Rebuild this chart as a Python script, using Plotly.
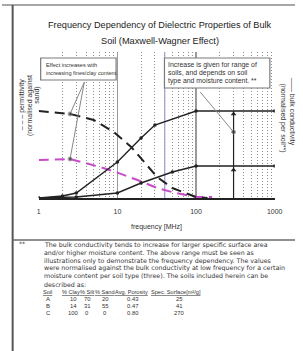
import plotly.graph_objects as go

W, H = 303, 351
def px(x): return x / W
def py(y): return 1 - y / H

FONT = "Liberation Sans"
TXT = "#333333"

# ---------------- data ----------------
tick_vals = [1, 10, 100, 1000]
tick_text = ["1", "10", "100", "1000"]
minor_vals = [2, 3, 4, 5, 6, 7, 8, 9, 20, 30, 40, 50, 60, 70, 80, 90,
              200, 300, 400, 500, 600, 700, 800, 900]

# permittivity (normalised against sand) - high fines/clay soil
perm_hi_f = [1, 2.5, 5, 9, 15, 22, 32, 50, 100, 140]
perm_hi = [0.87, 0.84, 0.78, 0.66, 0.51, 0.36, 0.21, 0.10, 0.01, 0.0]
# permittivity - lower fines soil
perm_lo_f = [1, 2.5, 6, 9.5, 18, 32, 55, 100, 160]
perm_lo = [0.38, 0.39, 0.31, 0.26, 0.18, 0.10, 0.05, 0.01, 0.01]

# bulk conductivity (normalised per soil) - upper / lower limit of range
cond_hi_f = [1, 2, 3, 10, 20, 30, 100, 1000]
cond_hi = [0.0, 0.02, 0.05, 0.36, 0.60, 0.73, 0.87, 0.87]
cond_lo_f = [1, 2, 3, 10, 20, 50, 100, 1000]
cond_lo = [0.0, 0.01, 0.01, 0.05, 0.15, 0.26, 0.32, 0.32]

# range arrow
range_f = [300, 300]
range_v = [0.0, 0.87]
arrow_f = [300, 300]
arrow_v = [0.84, 0.28]

# highlighted vertical line
mark_f = [40, 40]
mark_v = [0.0, 1.46]

# pointers from the text boxes
ptr1_f = [2.5, 3.8, 2.5]
ptr1_v = [0.84, 1.16, 0.39]
ptr2_f = [113, 300]
ptr2_v = [1.06, 0.66]

title_lines = ["Frequency Dependency of Dielectric Properties of Bulk",
               "Soil (Maxwell-Wagner Effect)"]
box1_lines = ["Effect increases with", "increasing fines/clay content."]
box2_lines = ["Increase is given for range of", "soils, and depends on soil",
              "type and moisture content. **"]
note_lines = [
    "The bulk conductivity tends to increase for larger specific surface area",
    "and/or higher moisture content. The above range must be seen as",
    "illustrations only to demonstrate the frequency dependency. The values",
    "were normalised against the bulk conductivity at low frequency for a certain",
    "moisture content per soil type (three). The soils included herein can be",
    "described as:",
]
table_head = ["Soil", "% Clay", "% Silt", "% Sand", "Avg. Porosity", "Spec. Surface[m²/g]"]
table_rows = [
    ["A", "10", "70", "20", "0.43", "25"],
    ["B", "14", "31", "55", "0.47", "41"],
    ["C", "100", "0", "0", "0.80", "270"],
]

# ---------------- figure ----------------
fig = go.Figure()

fig.add_trace(go.Scatter(x=mark_f, y=mark_v, mode="lines",
                         line=dict(color="#9d9dd0", width=1.2), hoverinfo="skip"))
fig.add_trace(go.Scatter(x=perm_lo_f, y=perm_lo, mode="lines",
                         line=dict(color="#c84cc8", width=2, dash="10px,6px")))
fig.add_trace(go.Scatter(x=perm_hi_f, y=perm_hi, mode="lines",
                         line=dict(color="#222222", width=2, dash="10px,6px")))
fig.add_trace(go.Scatter(x=cond_hi_f, y=cond_hi, mode="lines+markers",
                         line=dict(color="#222222", width=1.4),
                         marker=dict(size=3.5, color="#222222")))
fig.add_trace(go.Scatter(x=cond_lo_f, y=cond_lo, mode="lines+markers",
                         line=dict(color="#222222", width=1.4),
                         marker=dict(size=3.5, color="#222222")))
fig.add_trace(go.Scatter(x=range_f, y=range_v, mode="lines",
                         line=dict(color="#222222", width=1.2)))
fig.add_trace(go.Scatter(x=arrow_f, y=arrow_v, mode="markers",
                         marker=dict(symbol="triangle-up", size=5, color="#222222")))
fig.add_trace(go.Scatter(x=ptr1_f, y=ptr1_v, mode="lines+markers",
                         line=dict(color="#888888", width=1),
                         marker=dict(size=[4, 0, 4], color="#222222")))
fig.add_trace(go.Scatter(x=ptr2_f, y=ptr2_v, mode="lines+markers",
                         line=dict(color="#888888", width=1),
                         marker=dict(size=[0, 4], color="#222222")))

fig.update_layout(
    width=W, height=H, autosize=False,
    margin=dict(l=0, r=0, t=0, b=0),
    paper_bgcolor="white", plot_bgcolor="white",
    showlegend=False,
    font=dict(family=FONT, color=TXT),
    xaxis=dict(type="log", range=[0, 3], domain=[px(38), px(282)],
               tickmode="array", tickvals=tick_vals, ticktext=tick_text,
               tickfont=dict(size=7, color=TXT), ticks="",
               ticklabelstandoff=6,
               showgrid=True, gridcolor="#9a9a9a", gridwidth=1.3,
               minor=dict(tickmode="array", tickvals=minor_vals, showgrid=True,
                          gridcolor="#8f8f8f", gridwidth=1, griddash="1px,2px", ticks=""),
               showline=True, linecolor="#222222", linewidth=1.8,
               zeroline=False, fixedrange=True),
    yaxis=dict(range=[0, 1.46], domain=[py(198), py(52)],
               showgrid=False, showticklabels=False, zeroline=False,
               showline=False, ticks="", fixedrange=True),
)

def txt(x, y, s, size, anchor="left", angle=0, color=TXT, family=FONT):
    fig.add_annotation(x=px(x), y=py(y), xref="paper", yref="paper", text=s,
                       showarrow=False, xanchor=anchor, yanchor="middle",
                       textangle=angle, borderpad=0,
                       font=dict(size=size, color=color, family=family))

def line(x0, y0, x1, y1, color="#666666", width=1.5):
    fig.add_shape(type="line", xref="paper", yref="paper",
                  x0=px(x0), y0=py(y0), x1=px(x1), y1=py(y1),
                  line=dict(color=color, width=width))

def rect(x0, y0, x1, y1):
    fig.add_shape(type="rect", xref="paper", yref="paper",
                  x0=px(x0), y0=py(y0), x1=px(x1), y1=py(y1),
                  line=dict(color="#7a7a7a", width=1.2), fillcolor="white")

# frame
line(0, 5, 303, 5, "#8a8a8a", 1.5)
line(11, 5, 11, 351, "#555555", 2)
line(11, 240, 303, 240, "#6a6a6a", 1.5)

# title
txt(163, 25, title_lines[0], 9.2, "center", color="#222222")
txt(163, 41, title_lines[1], 9.2, "center", color="#222222")

# text boxes
rect(40, 58, 118, 80)
txt(44, 65, box1_lines[0], 5.6)
txt(44, 73, box1_lines[1], 5.6)
rect(168, 58, 277, 88)
for i, s in enumerate(box2_lines):
    txt(171, 65 + 8 * i, s, 6.9)

# axis titles
txt(160, 227, "frequency [MHz]", 7, "center")
txt(21, 105, "– – – permittivity", 7, "center", -90)
txt(29, 106, "(normalised against", 7, "center", -90)
txt(36, 95, "sand)", 7, "center", -90)
txt(300, 112, "—— bulk conductivity", 7, "center", 90)
txt(291, 118, "(normalised per soil**)", 7, "center", 90)

# footnote
NOTE_FONT = "DejaVu Sans"
txt(17, 243, "**", 6.2, family=NOTE_FONT)
for i, s in enumerate(note_lines):
    txt(42, 245 + 7.8 * i, s, 6.3, family=NOTE_FONT)

col_x = [47, 71, 88, 107, 134, 180]
for j, h in enumerate(table_head):
    txt(col_x[j], 291.5, "<span style='text-decoration:underline'>" + h + "</span>", 5.6, "center")
val_x = [48, 74, 88, 107, 135, 184]
for i, row in enumerate(table_rows):
    for j, v in enumerate(row):
        txt(val_x[j], 298.5 + 7 * i, v, 5.9, "center")

fig.write_html("out.html",
               config={"displayModeBar": False, "staticPlot": True},
               post_script="document.body.style.margin='0';document.body.style.overflow='hidden';")
